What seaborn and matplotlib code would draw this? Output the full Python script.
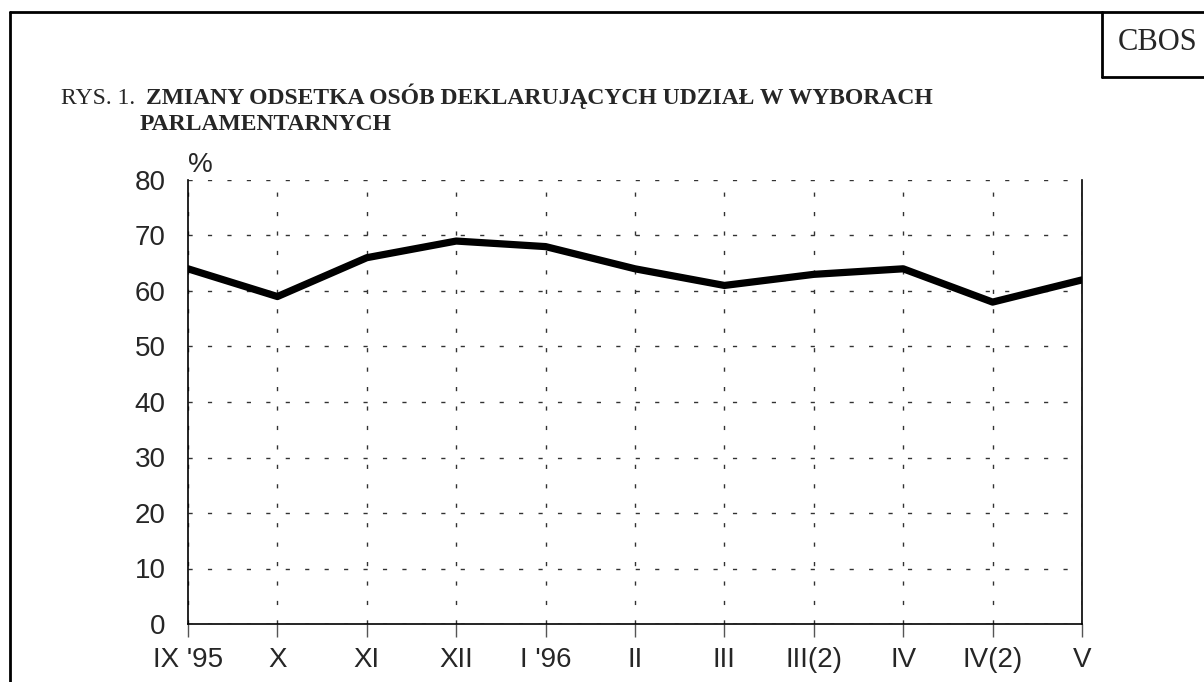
import pandas as pd
import matplotlib.pyplot as plt
import seaborn as sns
from matplotlib.lines import Line2D

# dane z rysunku
miesiace = ["IX '95", "X", "XI", "XII", "I '96", "II", "III", "III(2)", "IV", "IV(2)", "V"]
odsetek = [64, 59, 66, 69, 68, 64, 61, 63, 64, 58, 62]
y_ticks = [0, 10, 20, 30, 40, 50, 60, 70, 80]

df = pd.DataFrame({'poz': range(len(miesiace)), 'odsetek': odsetek})

sns.set_style('white')
plt.rcParams['font.family'] = ['Liberation Sans', 'DejaVu Sans']

fig = plt.figure(figsize=(12.04, 6.82), dpi=100)
W, H = 1204, 682
ax = fig.add_axes([188 / W, 1 - 624 / H, (1082 - 188) / W, (624 - 180) / H])

sns.lineplot(data=df, x='poz', y='odsetek', color='black', linewidth=5.2, ax=ax)

ax.set_xlim(0, len(miesiace) - 1)
ax.set_ylim(0, 80)
ax.set_xticks(range(len(miesiace)))
ax.set_xticklabels(miesiace, fontsize=20)
ax.set_yticks(y_ticks)
ax.set_yticklabels([str(v) for v in y_ticks], fontsize=20)
ax.set_xlabel('')
ax.set_ylabel('')
ax.tick_params(axis='x', length=9.5, width=1, color='#555555', pad=7, direction='out', bottom=True)
ax.tick_params(axis='y', length=0, pad=16)

ax.xaxis.grid(True, color='#333333', linewidth=1, linestyle=(0, (3, 11)))
ax.yaxis.grid(True, color='#333333', linewidth=1, linestyle=(0, (3, 11)))
ax.spines['top'].set_visible(False)
for s in ['left', 'bottom', 'right']:
    ax.spines[s].set_color('black')
    ax.spines[s].set_linewidth(1.2)

ax.text(0.0, 1.005, '%', transform=ax.transAxes, fontsize=20, ha='left', va='bottom')

# tytul
fig.text(61 / W, 1 - 104 / H, 'RYS. 1.', family='Liberation Serif', fontsize=17,
         ha='left', va='baseline')
fig.text(146 / W, 1 - 104 / H, 'ZMIANY ODSETKA OSÓB DEKLARUJĄCYCH UDZIAŁ W WYBORACH',
         family='Liberation Serif', fontsize=17, fontweight='bold', ha='left', va='baseline')
fig.text(140 / W, 1 - 130 / H, 'PARLAMENTARNYCH', family='Liberation Serif', fontsize=17,
         fontweight='bold', ha='left', va='baseline')

# ramka i CBOS
def fline(xs, ys):
    fig.add_artist(Line2D([x / W for x in xs], [1 - y / H for y in ys], color='black',
                          linewidth=2, transform=fig.transFigure))

fline([10, W], [12, 12])
fline([10, 10], [12, H])
fline([1102, 1102], [12, 77])
fline([1102, W], [77, 77])
fig.text(1158 / W, 1 - 43 / H, 'CBOS', family='Liberation Serif', fontsize=22,
         ha='center', va='center')

fig.savefig('out.png', dpi=100)
